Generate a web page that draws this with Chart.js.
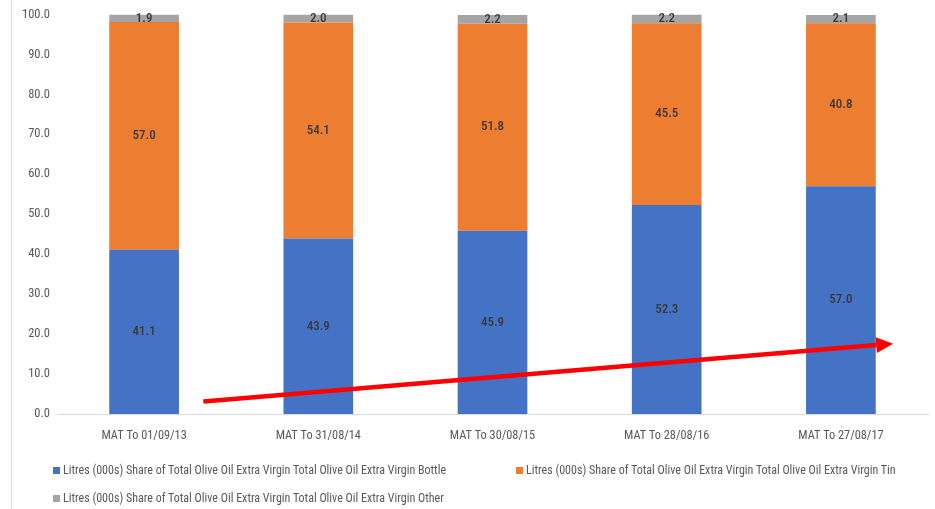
<!DOCTYPE html>
<html>
<head>
<meta charset="utf-8">
<script src="https://cdn.jsdelivr.net/npm/chart.js@4/dist/chart.umd.min.js"></script>
<style>
  html, body { margin: 0; padding: 0; background: #fff; }
  #wrap { position: relative; width: 935px; height: 509px; overflow: hidden; }
  #frame { position: absolute; left: 11px; top: 0; width: 1px; height: 509px; background: #d9d9d9; }
  #chart-box { position: absolute; left: 0; top: 0; width: 935px; height: 452px; }
  #legend { position: absolute; left: 0; top: 0; width: 935px; height: 509px; pointer-events: none;
            font-family: 'Roboto Condensed', 'Liberation Sans Narrow', sans-serif; font-size: 12px; color: #595959; }
  .item { position: absolute; white-space: nowrap; line-height: 14px; }
  .swatch { display: inline-block; width: 7px; height: 7px; margin-right: 3px; vertical-align: 0px; }
</style>
</head>
<body>
<div id="wrap">
  <div id="frame"></div>
  <div id="chart-box"><canvas id="share-chart"></canvas></div>
  <div id="legend"></div>
</div>
<script>
// MAT periods and share (%) of litres by pack type
const periods = ['MAT To 01/09/13', 'MAT To 31/08/14', 'MAT To 30/08/15', 'MAT To 28/08/16', 'MAT To 27/08/17'];
const bottleShare = [41.1, 43.9, 45.9, 52.3, 57.0];
const tinShare = [57.0, 54.1, 51.8, 45.5, 40.8];
const otherShare = [1.9, 2.0, 2.2, 2.2, 2.1];
const seriesNames = [
    'Litres (000s) Share of Total Olive Oil Extra Virgin Total Olive Oil Extra Virgin Bottle',
    'Litres (000s) Share of Total Olive Oil Extra Virgin Total Olive Oil Extra Virgin Tin',
    'Litres (000s) Share of Total Olive Oil Extra Virgin Total Olive Oil Extra Virgin Other'
];
const yTicks = [0, 10, 20, 30, 40, 50, 60, 70, 80, 90, 100];

// trend arrow, in [category index, value] units
const arrowFrom = [0.34, 3.1];
const arrowTo = [4.3, 17.6];

const colors = ['#4472C4', '#ED7D31', '#A5A5A5'];
const fontFamily = "'Roboto Condensed', 'Liberation Sans Narrow', sans-serif";

// value labels centred in every segment
const segmentLabels = {
    id: 'segmentLabels',
    afterDatasetsDraw(chart) {
        const ctx = chart.ctx;
        ctx.save();
        ctx.font = `500 13px ${fontFamily}`;
        ctx.fillStyle = '#383838';
        ctx.textAlign = 'center';
        ctx.textBaseline = 'middle';
        chart.data.datasets.forEach((ds, di) => {
            const meta = chart.getDatasetMeta(di);
            meta.data.forEach((bar, i) => {
                const midY = (bar.y + bar.base) / 2;
                ctx.fillText(ds.data[i].toFixed(1), bar.x, midY);
            });
        });
        ctx.restore();
    }
};

// red trend arrow over the bars
const trendArrow = {
    id: 'trendArrow',
    afterDraw(chart) {
        const { ctx, scales: { x, y } } = chart;
        const x1 = x.getPixelForValue(arrowFrom[0]), y1 = y.getPixelForValue(arrowFrom[1]);
        const x2 = x.getPixelForValue(arrowTo[0]), y2 = y.getPixelForValue(arrowTo[1]);
        const ang = Math.atan2(y2 - y1, x2 - x1);
        const headLen = 17, headHalf = 8;
        const bx = x2 - headLen * Math.cos(ang), by = y2 - headLen * Math.sin(ang);
        ctx.save();
        ctx.strokeStyle = '#FF0000';
        ctx.fillStyle = '#FF0000';
        ctx.lineWidth = 4.5;
        ctx.beginPath();
        ctx.moveTo(x1, y1);
        ctx.lineTo(bx, by);
        ctx.stroke();
        ctx.beginPath();
        ctx.moveTo(x2, y2);
        ctx.lineTo(bx + headHalf * Math.sin(ang), by - headHalf * Math.cos(ang));
        ctx.lineTo(bx - headHalf * Math.sin(ang), by + headHalf * Math.cos(ang));
        ctx.closePath();
        ctx.fill();
        ctx.restore();
    }
};

const chart = new Chart(document.getElementById('share-chart'), {
    type: 'bar',
    data: {
        labels: periods,
        datasets: [bottleShare, tinShare, otherShare].map((d, i) => ({
            label: seriesNames[i],
            data: d,
            backgroundColor: colors[i],
            borderWidth: 0,
            categoryPercentage: 1,
            barPercentage: 0.4
        }))
    },
    options: {
        responsive: true,
        maintainAspectRatio: false,
        animation: false,
        layout: { padding: { top: 14, right: 7, left: 0, bottom: 0 } },
        plugins: {
            legend: { display: false },
            tooltip: { enabled: false }
        },
        scales: {
            x: {
                stacked: true,
                grid: { display: false, drawTicks: false },
                border: { display: true, color: '#d9d9d9', width: 1 },
                ticks: { color: '#595959', font: { family: fontFamily, size: 12.3 }, padding: 15, maxRotation: 0 },
                afterFit: (s) => { s.height = 38; }
            },
            y: {
                stacked: true,
                min: 0,
                max: 100,
                afterBuildTicks: (s) => { s.ticks = yTicks.map(v => ({ value: v })); },
                grid: { display: false, drawTicks: false },
                border: { display: false },
                ticks: {
                    color: '#595959',
                    font: { family: fontFamily, size: 12.5 },
                    padding: 7,
                    callback: (v) => Number(v).toFixed(1)
                },
                afterFit: (s) => { s.width = 57; }
            }
        }
    },
    plugins: [segmentLabels, trendArrow]
});

// Excel-style legend below the plot
const legendEl = document.getElementById('legend');
const legendPos = [[53, 463], [516, 463], [53, 491]];
seriesNames.forEach((name, i) => {
    const item = document.createElement('div');
    item.className = 'item';
    item.style.left = legendPos[i][0] + 'px';
    item.style.top = legendPos[i][1] + 'px';
    item.innerHTML = `<span class="swatch" style="background:${colors[i]}"></span>${name}`;
    legendEl.appendChild(item);
});
</script>
</body>
</html>
